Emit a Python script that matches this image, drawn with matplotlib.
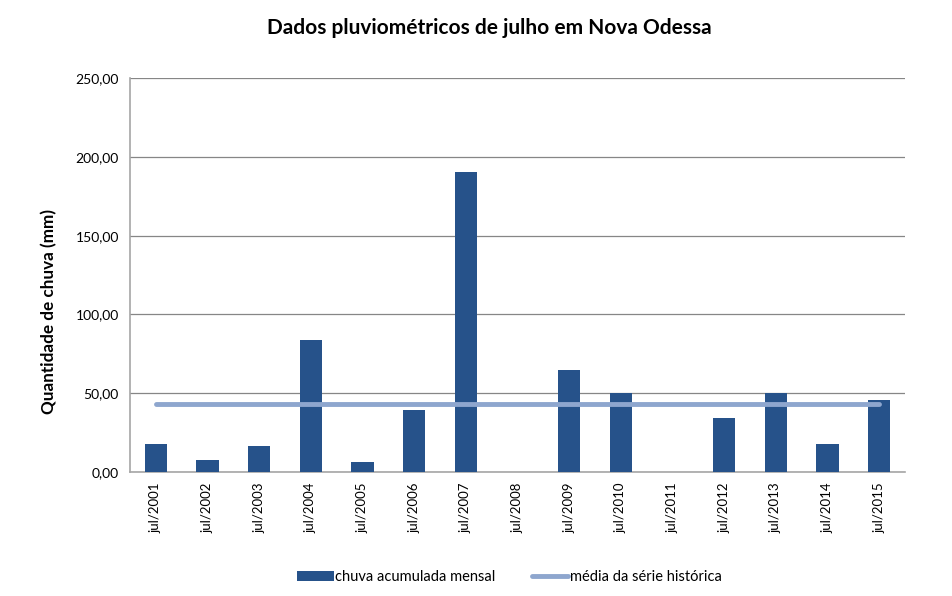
import matplotlib
matplotlib.use("Agg")
import matplotlib.pyplot as plt
from matplotlib.ticker import FuncFormatter

categories = ["jul/2001", "jul/2002", "jul/2003", "jul/2004", "jul/2005", "jul/2006",
              "jul/2007", "jul/2008", "jul/2009", "jul/2010", "jul/2011", "jul/2012",
              "jul/2013", "jul/2014", "jul/2015"]
chuva = [17.9, 7.4, 16.2, 83.7, 6.1, 39.5, 190.5, 0.0, 64.8, 50.1, 0.0, 34.3, 50.2, 17.9, 45.8]
media = [42.7] * len(categories)

plt.rcParams['font.family'] = ['Lato', 'DejaVu Sans']

fig = plt.figure(figsize=(9.52, 5.96), dpi=100)
ax = fig.add_axes([0.1366, 0.2086, 0.8140, 0.6600])

x = list(range(len(categories)))
bars = ax.bar(x, chuva, width=0.43, color="#26528A", label="chuva acumulada mensal", zorder=3)
line, = ax.plot(x, media, color="#8EA6CE", linewidth=3.5, solid_capstyle="round",
                label="média da série histórica", zorder=4)

ax.set_xlim(-0.5, len(categories) - 0.5)
ax.set_ylim(0, 250)
ax.set_yticks([0, 50, 100, 150, 200, 250])
ax.yaxis.set_major_formatter(FuncFormatter(lambda v, p: f"{v:.2f}".replace(".", ",")))
ax.set_xticks(x)
ax.set_xticklabels(categories, rotation=90, fontsize=9.5)
ax.tick_params(axis='y', labelsize=10, length=0, pad=8)
ax.tick_params(axis='x', length=0, pad=8)
ax.grid(axis='y', color="#868686", linewidth=0.9, zorder=0)
for s in ["top", "right"]:
    ax.spines[s].set_visible(False)
ax.spines["left"].set_color("#A6A6A6")
ax.spines["bottom"].set_color("#A6A6A6")
ax.spines["left"].set_linewidth(1.2)
ax.spines["bottom"].set_linewidth(1.2)

ax.set_ylabel("Quantidade de chuva (mm)", fontsize=12.3, fontweight="bold")
ax.yaxis.set_label_coords(-0.094, 0.406)
fig.text(0.514, 0.953, "Dados pluviométricos de julho em Nova Odessa", ha="center", va="center",
         fontsize=15, fontweight="bold")

fig.legend(handles=[bars, line], loc="center", bbox_to_anchor=(0.535, 0.032), ncol=2,
           frameon=False, fontsize=10.5, handlelength=2.5, handletextpad=0.1,
           columnspacing=2.5)

fig.savefig("out.png", dpi=100)
